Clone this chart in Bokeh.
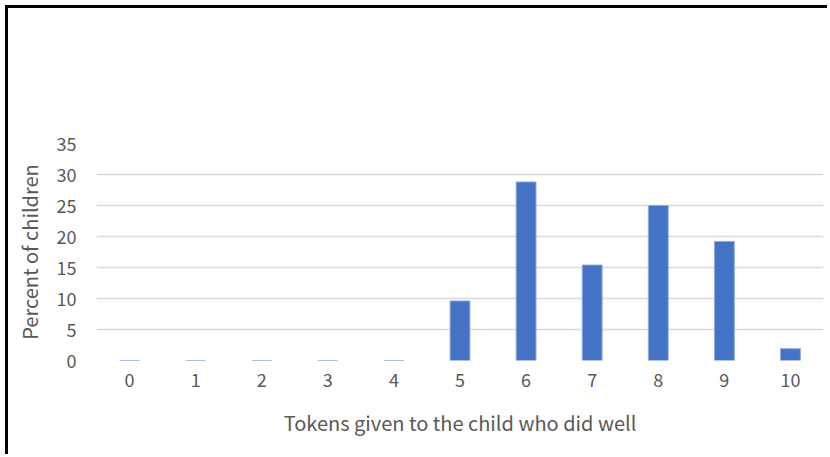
from bokeh.plotting import figure
from bokeh.models import Label, FactorRange, SingleIntervalTicker
from bokeh.embed import file_html
from bokeh.resources import INLINE

tokens = ["0", "1", "2", "3", "4", "5", "6", "7", "8", "9", "10"]
percent = [0, 0, 0, 0, 0, 9.6, 28.8, 15.4, 25.0, 19.2, 1.9]
title_text = "The merit treatment in the spectator game"
x_label = "Tokens given to the child who did well"
y_label = "Percent of children"

FONT = "Noto Sans CJK SC"
GREY = "#595959"

p = figure(
    x_range=FactorRange(factors=tokens),
    y_range=(0, 35),
    width=822, height=449,
    output_backend="svg", toolbar_location=None,
    min_border_left=88, min_border_right=7,
    min_border_top=135, min_border_bottom=97,
)
p.styles = {"margin-left": "5px", "margin-top": "5px",
            "border-left": "3px solid black", "border-top": "3px solid black"}
p.outline_line_color = None
p.background_fill_color = "white"
p.border_fill_color = "white"

p.vbar(x=tokens, top=percent, width=0.3, fill_color="#4472C4",
       line_color="#8FAADC", line_width=1)

p.xgrid.grid_line_color = None
p.ygrid.grid_line_color = "#D9D9D9"
p.ygrid.grid_line_width = 1.5
p.yaxis.ticker = SingleIntervalTicker(interval=5)

for ax in (p.xaxis[0], p.yaxis[0]):
    ax.axis_line_color = None
    ax.major_tick_line_color = None
    ax.minor_tick_line_color = None
    ax.major_tick_in = 0
    ax.major_tick_out = 0
    ax.major_label_text_font = FONT
    ax.major_label_text_font_size = "18px"
    ax.major_label_text_color = GREY
    ax.axis_label_text_font = FONT
    ax.axis_label_text_font_size = "20px"
    ax.axis_label_text_color = GREY
    ax.axis_label_text_font_style = "normal"

p.xaxis.axis_label = x_label
p.yaxis.axis_label = y_label
p.xaxis.major_label_standoff = 12
p.xaxis.axis_label_standoff = 18
p.yaxis.major_label_standoff = 16
p.yaxis.axis_label_standoff = 10

p.add_layout(Label(x=330, y=309, x_units="screen", y_units="screen",
                   text=title_text, text_align="center", text_baseline="alphabetic",
                   text_font=FONT, text_font_size="39px", text_color=GREY))

open("out.html", "w").write(file_html(p, INLINE))
